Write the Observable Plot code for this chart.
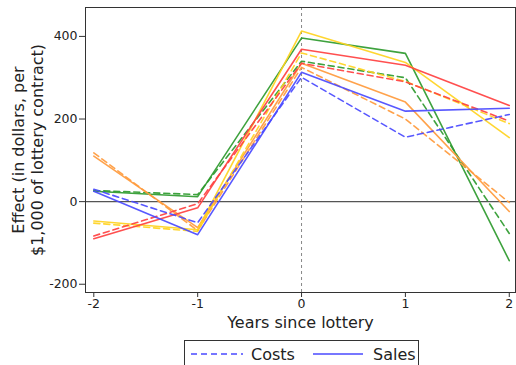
<!DOCTYPE html>
<html>
<head>
<meta charset="utf-8">
<script src="https://cdn.jsdelivr.net/npm/d3@7"></script>
<script src="https://cdn.jsdelivr.net/npm/@observablehq/plot@0.6"></script>
<style>
  body { margin: 0; background: #fff; font-family: "DejaVu Sans", sans-serif; }
  #wrap { position: relative; width: 516px; height: 365px; overflow: hidden; }
  #legend { position: absolute; left: 184px; top: 340px; width: 233px; height: 40px; border: 1px solid #333; background: #fff; }
</style>
</head>
<body>
<div id="wrap"></div>
<script>
const years = [-2, -1, 0, 1, 2];
const yTicks = [-200, 0, 200, 400];

const greenSales  = [25, 12, 396, 359, -143];
const greenCosts  = [27, 17, 340, 300, -77];
const orangeSales = [110, -63, 335, 241, -24];
const orangeCosts = [118, -70, 325, 200, -2];
const yellowSales = [-47, -68, 413, 337, 155];
const yellowCosts = [-52, -72, 360, 291, 189];
const redSales    = [-90, -15, 369, 330, 233];
const redCosts    = [-83, -5, 335, 290, 195];
const blueSales   = [25, -80, 313, 219, 226];
const blueCosts   = [30, -51, 301, 156, 211];

const series = [
  {values: greenCosts, color: "#2e9a2e", dash: "6,4"},
  {values: greenSales, color: "#2e9a2e", dash: null},
  {values: orangeCosts, color: "#ff9a3c", dash: "6,4"},
  {values: orangeSales, color: "#ff9a3c", dash: null},
  {values: yellowCosts, color: "#ffd21f", dash: "6,4"},
  {values: yellowSales, color: "#ffd21f", dash: null},
  {values: redCosts, color: "#ff4040", dash: "6,4"},
  {values: redSales, color: "#ff4040", dash: null},
  {values: blueCosts, color: "#4a4aff", dash: "6,4"},
  {values: blueSales, color: "#4a4aff", dash: null}
];

const lineMarks = series.map(s =>
  Plot.line(years.map((x, i) => ({x, y: s.values[i]})), {
    x: "x", y: "y", stroke: s.color, strokeWidth: 1.6, strokeOpacity: 0.92,
    strokeDasharray: s.dash
  })
);

const chart = Plot.plot({
  width: 516,
  height: 338,
  marginTop: 7,
  marginBottom: 46,
  marginLeft: 85,
  marginRight: 1,
  style: {fontFamily: "DejaVu Sans, sans-serif", fontSize: "12px", color: "#222"},
  x: {domain: [-2.08, 2.06]},
  y: {domain: [-220, 470]},
  marks: [
    Plot.ruleX([0], {stroke: "#888", strokeDasharray: "3,3", strokeWidth: 1}),
    Plot.ruleY([0], {stroke: "#555", strokeWidth: 1.3}),
    ...lineMarks,
    Plot.frame({stroke: "#333", strokeWidth: 1}),
    Plot.axisX({ticks: years, tickFormat: d => String(d), tickSize: 5, tickPadding: 2, fontSize: 12.5, label: null, stroke: "#333"}),
    Plot.axisY({ticks: yTicks, tickFormat: d => String(d), tickSize: 6, tickPadding: 2, fontSize: 12.5, label: null, stroke: "#333"}),
    Plot.text(["Years since lottery"], {frameAnchor: "bottom", dy: 35, fontSize: 16, fill: "#222"}),
    Plot.text(["Effect (in dollars, per\n$1,000 of lottery contract)"], {frameAnchor: "left", textAnchor: "middle", dx: -58, rotate: -90, fontSize: 16, lineHeight: 1.2, fill: "#222"})
  ]
});

const wrap = document.getElementById("wrap");
wrap.appendChild(chart);

const legend = document.createElement("div");
legend.id = "legend";
legend.innerHTML = `
<svg width="233" height="40" style="font-family:'DejaVu Sans',sans-serif;font-size:16px">
  <line x1="6" x2="58" y1="13" y2="13" stroke="#4a4aff" stroke-width="1.5" stroke-dasharray="6,4"/>
  <text x="66" y="19" fill="#222">Costs</text>
  <line x1="128" x2="178" y1="13" y2="13" stroke="#4a4aff" stroke-width="1.5"/>
  <text x="188" y="19" fill="#222">Sales</text>
</svg>`;
wrap.appendChild(legend);
</script>
</body>
</html>
